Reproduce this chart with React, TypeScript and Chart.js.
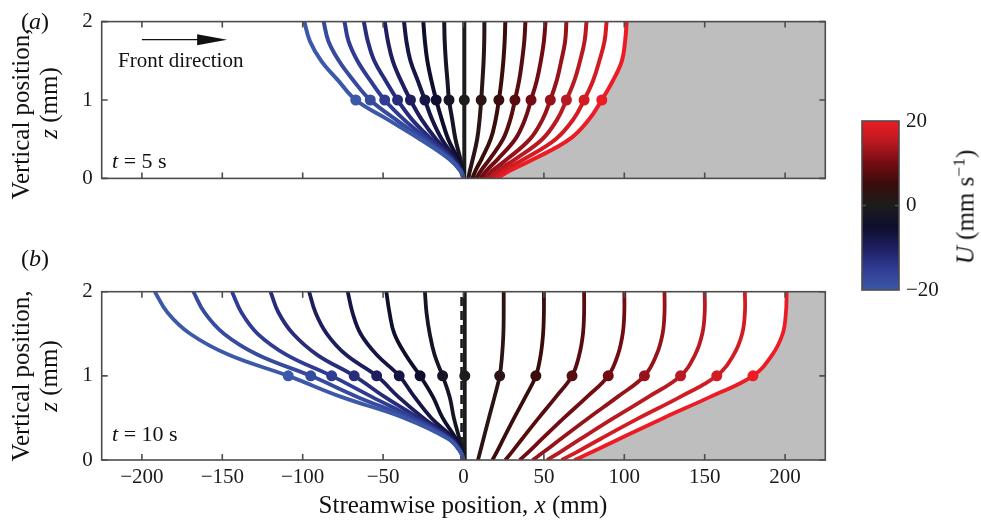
import React, { useEffect, useRef } from "react";
import { Chart, registerables } from "chart.js";

Chart.register(...registerables);

const SERIF = '"Liberation Serif", "Times New Roman", Times, serif';

// ---------------- data ----------------
// vertical levels (mm) at which each material line was read
const zLevels = [0, 0.1, 0.25, 0.5, 0.75, 1, 1.25, 1.5, 1.75, 2];
// velocity U (mm/s) attached to each line (sets its colour)
const curveU = [-20, -17.5, -15, -12.5, -10, -7.5, -5, -2.5, 0, 2.5, 5, 7.5, 10, 12.5, 15, 17.5, 20];

// (a) t = 5 s : streamwise position x (mm) of each line at zLevels
const linesT5 = [
  [0, -2, -9, -27, -47, -67, -78, -88.5, -95.5, -99],
  [0, -2, -8.5, -25, -42, -58, -68.5, -77.5, -84, -87],
  [0, -1.8, -7.8, -22.5, -37, -49, -58, -66, -71.5, -74],
  [0, -1.6, -7, -20, -32, -41, -48.5, -55.5, -59.5, -62],
  [0, -1.4, -6, -17, -26, -33, -39, -44, -47, -49],
  [0, -1.2, -5, -13.5, -19.5, -24, -28.5, -33, -35.5, -37],
  [0, -0.9, -3.5, -9.5, -13.5, -17, -20, -22.5, -24, -25],
  [0, -0.5, -2, -5, -7, -9, -10, -11, -11.7, -12],
  [0.5, 0.5, 0.5, 0.5, 0.5, 0.5, 0.5, 0.5, 0.5, 0.5],
  [3, 4, 5.8, 8.5, 10, 11, 11.8, 12.5, 12.9, 13],
  [5.5, 7.5, 11.3, 16.9, 20, 22, 23.6, 24.8, 25.6, 26],
  [8, 10.9, 16.4, 24.6, 29.1, 32, 34.6, 36.4, 37.8, 38.5],
  [10.5, 14.3, 21.5, 32.2, 38.2, 42, 45.6, 48.1, 50, 51],
  [13, 17.9, 27.4, 41.3, 49.1, 54, 58, 60.8, 63.2, 64],
  [15.5, 21.3, 32.5, 49, 58.2, 64, 69, 72.5, 75.3, 76.5],
  [18, 24.8, 38, 57.3, 68.2, 75, 80.6, 84.5, 87.7, 89],
  [21, 29, 44, 66, 78, 86, 93, 98.5, 100.5, 101.5],
];

// (b) t = 10 s
const linesT10 = [
  [0, -2, -9.5, -37, -76, -109, -146, -170, -184, -192],
  [0, -2, -9, -34, -66, -95, -128, -149, -161, -168],
  [0, -1.9, -8.5, -31, -57, -82, -110, -128, -138, -144],
  [0, -1.8, -8, -28, -49, -68, -91, -106, -115, -120],
  [0, -1.6, -7, -25, -40.5, -54, -73, -85, -92, -96],
  [0, -1.4, -6, -20, -30.5, -40, -54, -64, -69, -72],
  [0, -1, -4.5, -13, -19, -27, -36, -43, -46, -48],
  [0, -0.5, -2.5, -6, -8.6, -13, -18, -21, -23, -24],
  [0.8, 0.8, 0.8, 0.8, 0.8, 0.8, 0.8, 0.8, 0.8, 0.8],
  [9, 10.4, 12.4, 15.8, 19.3, 22.5, 24, 24.8, 25, 25],
  [18, 20.8, 24.8, 31.5, 38.5, 45, 48, 49.5, 50, 50],
  [26, 30.3, 36.4, 46.8, 57.5, 67.5, 72, 74.3, 75, 75],
  [35, 40.7, 48.8, 62.5, 76.8, 90, 96, 99, 100, 100],
  [43, 50.2, 60.4, 77.8, 95.8, 112.5, 120, 123.8, 125, 125],
  [52, 60.6, 72.8, 93.5, 115, 135, 144, 148.5, 150, 150],
  [61, 71, 85.1, 109.3, 134.8, 157.5, 168, 173.3, 175, 175],
  [69, 80.5, 96.8, 124.5, 153.4, 180, 192, 198.5, 200.5, 201],
];

// dashed reference line in (b)
const refLineX = [-1.2, -1.2];
const refLineZ = [0, 2];

const xTicks = [-200, -150, -100, -50, 0, 50, 100, 150, 200];
const zTicks = [0, 1, 2];
const uTicks = [-20, 0, 20];
const xLimits = [-225, 225];
const zLimits = [0, 2];
const uLimits = [-20, 20];

// "Front direction" arrow (data coordinates of panel a)
const arrowX = [-200, -147];
const arrowZ = 1.77;

// ---------------- colour map ----------------
const CMAP: [number, number[]][] = [
  [-20, [60, 88, 168]],
  [-15, [48, 60, 148]],
  [-10, [30, 30, 95]],
  [-5, [14, 14, 45]],
  [0, [28, 28, 28]],
  [5, [58, 12, 12]],
  [10, [115, 12, 18]],
  [15, [185, 25, 32]],
  [20, [237, 28, 36]],
];
const rgb = (c: number[]) => `rgb(${c.map((v) => Math.round(v)).join(",")})`;
function cmap(u: number): string {
  if (u <= CMAP[0][0]) return rgb(CMAP[0][1]);
  for (let i = 0; i < CMAP.length - 1; i++) {
    const [u0, c0] = CMAP[i];
    const [u1, c1] = CMAP[i + 1];
    if (u >= u0 && u <= u1) {
      const t = (u - u0) / (u1 - u0);
      return rgb(c0.map((v, k) => v + (c1[k] - v) * t));
    }
  }
  return rgb(CMAP[CMAP.length - 1][1]);
}

const FRAME = "#4d4d4d";
const TICKCOL = "#1a1a1a";
const minusFmt = (v: number) => (v < 0 ? "\u2212" + Math.abs(v) : String(v));

const framePlugin = {
  id: "frameTicks",
  afterDatasetsDraw(chart: any) {
    const { ctx, chartArea: a, scales } = chart;
    const tl = 6;
    ctx.save();
    ctx.strokeStyle = FRAME;
    ctx.lineWidth = 1.6;
    ctx.beginPath();
    for (const v of xTicks) {
      const p = scales.x.getPixelForValue(v);
      ctx.moveTo(p, a.bottom);
      ctx.lineTo(p, a.bottom - tl);
      ctx.moveTo(p, a.top);
      ctx.lineTo(p, a.top + tl);
    }
    for (const v of zTicks) {
      const p = scales.y.getPixelForValue(v);
      ctx.moveTo(a.left, p);
      ctx.lineTo(a.left + tl, p);
      ctx.moveTo(a.right, p);
      ctx.lineTo(a.right - tl, p);
    }
    ctx.stroke();
    ctx.strokeRect(a.left, a.top, a.right - a.left, a.bottom - a.top);
    ctx.restore();
  },
};

const arrowPlugin = {
  id: "frontArrow",
  afterDatasetsDraw(chart: any) {
    const { ctx, scales } = chart;
    const x0 = scales.x.getPixelForValue(arrowX[0]);
    const x1 = scales.x.getPixelForValue(arrowX[1]);
    const y = scales.y.getPixelForValue(arrowZ);
    const head = 30;
    ctx.save();
    ctx.strokeStyle = "#111";
    ctx.fillStyle = "#111";
    ctx.lineWidth = 1.3;
    ctx.beginPath();
    ctx.moveTo(x0, y);
    ctx.lineTo(x1 - head + 2, y);
    ctx.stroke();
    ctx.beginPath();
    ctx.moveTo(x1, y);
    ctx.lineTo(x1 - head, y - 5.5);
    ctx.lineTo(x1 - head, y + 5.5);
    ctx.closePath();
    ctx.fill();
    ctx.restore();
  },
};

function panelConfig(lines: number[][], showX: boolean, withRef: boolean, pad: any, xAxisH: number, lw: number) {
  const datasets: any[] = lines.map((xs, i) => {
    const col = cmap(curveU[i]);
    return {
      data: xs.map((x, k) => ({ x, y: zLevels[k] })),
      borderColor: col,
      backgroundColor: col,
      pointBackgroundColor: col,
      pointBorderWidth: 0,
      pointRadius: zLevels.map((z) => (z === 1 ? 5.5 : 0)),
      borderWidth: lw,
      tension: 0.4,
      fill: false,
      clip: 0,
    };
  });
  if (withRef) {
    datasets.push({
      data: refLineX.map((x, k) => ({ x, y: refLineZ[k] })),
      borderColor: "#1a1a1a",
      borderWidth: 2.6,
      borderDash: [9, 5],
      pointRadius: 0,
      fill: false,
      clip: 0,
      order: 5,
    });
  }
  const outer = lines[lines.length - 1];
  datasets.push({
    data: outer.map((x, k) => ({ x, y: zLevels[k] })),
    borderWidth: 0,
    borderColor: "rgba(0,0,0,0)",
    backgroundColor: "#bebebe",
    pointRadius: 0,
    tension: 0.4,
    fill: { value: xLimits[1] },
    order: 100,
  });

  return {
    type: "line",
    data: { datasets },
    options: {
      responsive: false,
      animation: false,
      events: [],
      indexAxis: "y",
      layout: { padding: pad },
      plugins: { legend: { display: false }, tooltip: { enabled: false }, title: { display: false } },
      scales: {
        x: {
          type: "linear",
          position: "bottom",
          min: xLimits[0],
          max: xLimits[1],
          afterBuildTicks: (s: any) => {
            s.ticks = xTicks.map((v) => ({ value: v }));
          },
          afterFit: (s: any) => {
            s.height = xAxisH;
          },
          grid: { display: false, drawTicks: false },
          border: { display: false },
          ticks: {
            display: showX,
            padding: 5,
            maxRotation: 0,
            autoSkip: false,
            color: TICKCOL,
            font: { family: SERIF, size: 21 },
            callback: (v: any) => minusFmt(Number(v)),
          },
        },
        y: {
          type: "linear",
          position: "left",
          min: zLimits[0],
          max: zLimits[1],
          afterBuildTicks: (s: any) => {
            s.ticks = zTicks.map((v) => ({ value: v }));
          },
          afterFit: (s: any) => {
            s.width = 101.7;
          },
          grid: { display: false, drawTicks: false },
          border: { display: false },
          ticks: {
            padding: 9,
            color: TICKCOL,
            font: { family: SERIF, size: 21 },
            callback: (v: any) => String(v),
          },
        },
      },
    },
    plugins: [framePlugin],
  };
}

const colorbarPlugin = {
  id: "colorbarFill",
  beforeDatasetsDraw(chart: any) {
    const { ctx, chartArea: a, scales } = chart;
    const g = ctx.createLinearGradient(0, a.bottom, 0, a.top);
    for (const [u, c] of CMAP) g.addColorStop((u - uLimits[0]) / (uLimits[1] - uLimits[0]), rgb(c));
    ctx.save();
    ctx.fillStyle = g;
    ctx.fillRect(a.left, a.top, a.right - a.left, a.bottom - a.top);
    ctx.strokeStyle = FRAME;
    ctx.lineWidth = 1.6;
    ctx.strokeRect(a.left, a.top, a.right - a.left, a.bottom - a.top);
    const p = scales.y.getPixelForValue(0);
    ctx.beginPath();
    ctx.moveTo(a.right, p);
    ctx.lineTo(a.right - 4, p);
    ctx.moveTo(a.left, p);
    ctx.lineTo(a.left + 4, p);
    ctx.stroke();
    ctx.restore();
  },
};

function colorbarConfig() {
  return {
    type: "scatter",
    data: { datasets: [{ data: [] as any[] }] },
    options: {
      responsive: false,
      animation: false,
      events: [],
      layout: { padding: { left: 12, top: 21, right: 0, bottom: 20 } },
      plugins: { legend: { display: false }, tooltip: { enabled: false } },
      scales: {
        x: { display: false, min: 0, max: 1 },
        y: {
          type: "linear",
          position: "right",
          min: uLimits[0],
          max: uLimits[1],
          afterBuildTicks: (s: any) => {
            s.ticks = uTicks.map((v) => ({ value: v }));
          },
          afterFit: (s: any) => {
            s.width = 51;
          },
          grid: { display: false, drawTicks: false },
          border: { display: false },
          ticks: {
            padding: 7,
            color: TICKCOL,
            font: { family: SERIF, size: 21 },
            callback: (v: any) => minusFmt(Number(v)),
          },
        },
      },
    },
    plugins: [colorbarPlugin],
  };
}

const abs = (o: any): React.CSSProperties => ({ position: "absolute", whiteSpace: "nowrap", lineHeight: 1, ...o });

export default function App() {
  const refA = useRef<HTMLCanvasElement>(null);
  const refB = useRef<HTMLCanvasElement>(null);
  const refC = useRef<HTMLCanvasElement>(null);

  useEffect(() => {
    document.body.style.margin = "0";
    const cfgA: any = panelConfig(linesT5, false, false, { left: 0, top: 18.3, right: 14.7, bottom: 12.3 }, 0, 4);
    cfgA.plugins.push(arrowPlugin);
    const cfgB: any = panelConfig(linesT10, true, true, { left: 0, top: 31.7, right: 14.7, bottom: 0 }, 63, 3.8);
    const charts = [
      new Chart(refA.current as HTMLCanvasElement, cfgA),
      new Chart(refB.current as HTMLCanvasElement, cfgB),
      new Chart(refC.current as HTMLCanvasElement, colorbarConfig() as any),
    ];
    return () => charts.forEach((c) => c.destroy());
  }, []);

  const rot: React.CSSProperties = { transform: "translate(-50%, -50%) rotate(-90deg)", textAlign: "center" };

  return (
    <div style={{ position: "relative", width: 981, height: 523, background: "#fff", fontFamily: SERIF, color: "#111", overflow: "hidden" }}>
      <canvas ref={refA} width={840} height={200} style={{ position: "absolute", left: 0, top: 0, width: 840, height: 200 }} />
      <canvas ref={refB} width={840} height={263} style={{ position: "absolute", left: 0, top: 260, width: 840, height: 263 }} />
      <canvas ref={refC} width={100} height={210} style={{ position: "absolute", left: 850, top: 100, width: 100, height: 210 }} />

      <div style={abs({ left: 21, top: 8.5, fontSize: 24 })}>(<i>a</i>)</div>
      <div style={abs({ left: 21, top: 246, fontSize: 24 })}>(<i>b</i>)</div>

      <div style={abs({ left: 20, top: 114, fontSize: 25, ...rot })}>Vertical position,</div>
      <div style={abs({ left: 48, top: 103, fontSize: 25, ...rot })}>
        <i>z</i> (mm)
      </div>
      <div style={abs({ left: 20, top: 376, fontSize: 25, ...rot })}>Vertical position,</div>
      <div style={abs({ left: 48, top: 376, fontSize: 25, ...rot })}>
        <i>z</i> (mm)
      </div>

      <div style={abs({ left: 463, top: 504, fontSize: 25, transform: "translate(-50%, -50%)" })}>
        Streamwise position, <i>x</i> (mm)
      </div>

      <div style={abs({ left: 118, top: 49.5, fontSize: 21 })}>Front direction</div>
      <div style={abs({ left: 112, top: 150, fontSize: 22 })}>
        <i>t</i> = 5 s
      </div>
      <div style={abs({ left: 112, top: 423, fontSize: 22 })}>
        <i>t</i> = 10 s
      </div>

      <div style={abs({ left: 965, top: 207, fontSize: 25, ...rot })}>
        <i>U</i> (mm s<span style={{ fontSize: "0.7em", position: "relative", top: "-0.5em" }}>{"\u2212"}1</span>)
      </div>
    </div>
  );
}
